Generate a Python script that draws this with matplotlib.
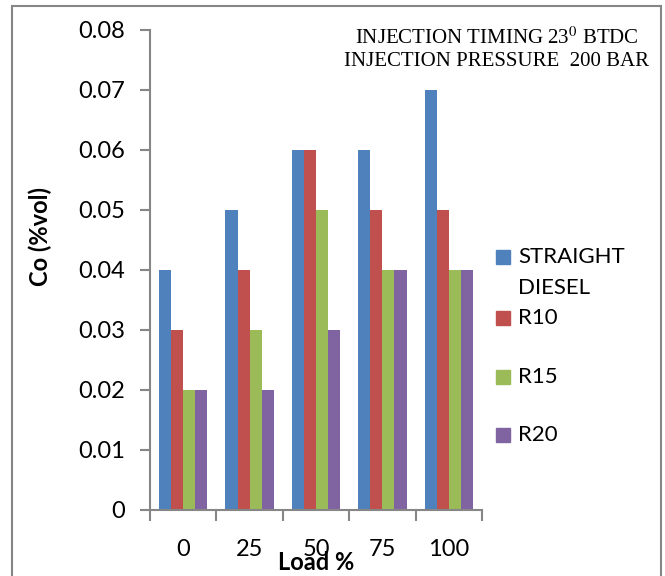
import matplotlib.pyplot as plt
from matplotlib.patches import Rectangle
import numpy as np

# data
loads = ['0', '25', '50', '75', '100']
straight_diesel = [0.04, 0.05, 0.06, 0.06, 0.07]
r10 = [0.03, 0.04, 0.06, 0.05, 0.05]
r15 = [0.02, 0.03, 0.05, 0.04, 0.04]
r20 = [0.02, 0.02, 0.03, 0.04, 0.04]

series_names = ['STRAIGHT\nDIESEL', 'R10', 'R15', 'R20']
series_values = [straight_diesel, r10, r15, r20]
colors = ['#4F81BD', '#C0504D', '#9BBB59', '#8064A2']

plt.rcParams['font.family'] = ['Lato', 'DejaVu Sans']
plt.rcParams['mathtext.fontset'] = 'stix'

fig = plt.figure(figsize=(6.65, 5.76), dpi=100)
ax = fig.add_axes([150 / 665, 1 - 510 / 576, 332 / 665, 480 / 576])

# outer frame of the chart area
fig.add_artist(Rectangle((12 / 665, -0.05), 649 / 665, 1.05 - 6 / 576,
                         transform=fig.transFigure, fill=False,
                         edgecolor='#868686', linewidth=1.5))

x = np.arange(len(loads))
bw = 0.182
for i, (vals, c) in enumerate(zip(series_values, colors)):
    ax.bar(x + (i - 1.5) * bw, vals, bw, color=c, edgecolor='none')

ax.set_xlim(-0.5, len(loads) - 0.5)
ax.set_ylim(0, 0.08)
ax.set_yticks(np.arange(0, 0.081, 0.01))
ax.set_yticklabels(['0'] + ['%.2f' % v for v in np.arange(0.01, 0.081, 0.01)])

ax.set_xticks(x)
ax.set_xticklabels(loads)
ax.set_xticks(np.arange(-0.5, len(loads), 1), minor=True)
ax.tick_params(axis='x', which='major', length=0, pad=21, labelsize=17)
ax.tick_params(axis='x', which='minor', length=8, width=1.5, color='#868686', direction='out')
ax.tick_params(axis='y', length=7, width=1.5, color='#868686', direction='out', labelsize=17, pad=11)

for s in ['top', 'right']:
    ax.spines[s].set_visible(False)
for s in ['left', 'bottom']:
    ax.spines[s].set_color('#868686')
    ax.spines[s].set_linewidth(1.5)

ax.set_ylabel('Co (%vol)', fontsize=17, fontweight='bold')
ax.yaxis.label.set_va('center')
ax.yaxis.set_label_coords(-0.33, 0.57)
ax.set_xlabel('Load %', fontsize=17, fontweight='bold')
ax.xaxis.label.set_va('center')
ax.xaxis.set_label_coords(0.5, -0.11)

fig.text(497 / 665, 1 - 38 / 576, 'INJECTION TIMING 23$^{0}$ BTDC',
         ha='center', va='center', fontsize=15, family='Liberation Serif')
fig.text(497 / 665, 1 - 61 / 576, 'INJECTION PRESSURE  200 BAR',
         ha='center', va='center', fontsize=15, family='Liberation Serif')

# legend, drawn like the spreadsheet one
leg_y = [257, 318, 377, 435]
for name, c, yy in zip(series_names, colors, leg_y):
    fy = 1 - yy / 576
    fig.add_artist(Rectangle((496 / 665, fy - 7 / 576), 14 / 665, 14 / 576,
                             transform=fig.transFigure, color=c))
    if '\n' in name:
        first, second = name.split('\n')
        fig.text(518 / 665, fy, first, va='center', fontsize=16)
        fig.text(518 / 665, fy - 31 / 576, second, va='center', fontsize=16)
    else:
        fig.text(518 / 665, fy, name, va='center', fontsize=16)

fig.savefig('out.png', dpi=100)
